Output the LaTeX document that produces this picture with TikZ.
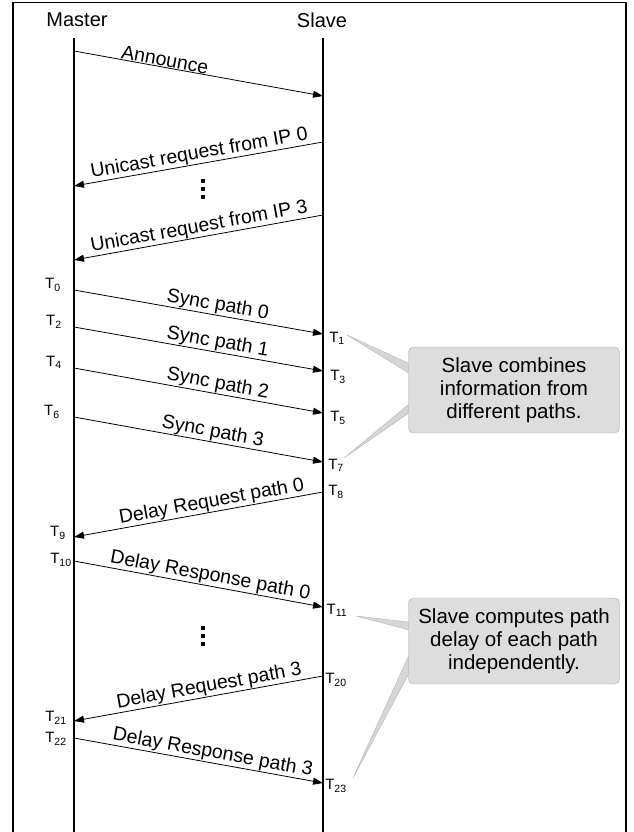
\documentclass[tikz,border=0pt]{standalone}
\usepackage{fontspec}
\setmainfont{Liberation Sans}
\usetikzlibrary{
    arrows.meta,
    positioning,
    calc,
    backgrounds
}
\definecolor{calloutfill}{RGB}{221,221,221}
\definecolor{calloutedge}{RGB}{170,170,170}
\definecolor{wedgefill}{RGB}{214,214,214}
\definecolor{wedgeedge}{RGB}{188,188,188}
\tikzset{
    lifeline/.style={line width=2pt},
    msg/.style={line width=0.8pt, -{Triangle[length=10pt,width=7pt]}},
    msglabel/.style={sloped, above, inner sep=0.5pt, font=\fontsize{19.5}{21}\selectfont},
    tstamp/.style={inner sep=0pt, font=\fontsize{15}{17}\selectfont},
    header/.style={inner sep=0pt, font=\fontsize{20}{22}\selectfont},
    callout/.style={draw=calloutedge, fill=calloutfill, rounded corners=5pt,
        minimum width=211pt, minimum height=86pt, align=center,
        font=\fontsize{20.5}{23}\selectfont},
    wedge/.style={draw=wedgeedge, fill=wedgefill, line width=0.5pt},
    vdot/.style={fill=black, minimum width=3.5pt, minimum height=4.5pt, inner sep=0pt},
}

\begin{document}
\begin{tikzpicture}[x=1pt, y=-1pt]
    \useasboundingbox (0,0) rectangle (634,832);

    %% Frame
    \draw[line width=2pt] (13,834) -- (13,3);
    \draw[line width=1pt] (12,3) -- (626,3);
    \draw[line width=2.5pt] (626,2) -- (626,834);

    %% Lifelines
    \node[header] (master) at (77,20) {Master};
    \node[header] (slave) at (322,20) {Slave};
    \coordinate (mtop) at (74,38);
    \coordinate (mbot) at (74,834);
    \coordinate (stop) at (323,38);
    \coordinate (sbot) at (323,834);
    \draw[lifeline] (mtop) -- (mbot);
    \draw[lifeline] (stop) -- (sbot);

    %% Announce
    \coordinate (ann m) at (74,51);
    \coordinate (ann s) at (323,96);
    \draw[msg] (ann m) -- node[msglabel, pos=0.36] {Announce} (ann s);

    %% Unicast requests
    \coordinate (uni0 s) at (323,142);
    \coordinate (uni0 m) at (74,186);
    \draw[msg] (uni0 s) -- node[msglabel, pos=0.49] {Unicast request from IP 0} (uni0 m);
    \foreach \y in {181,189,197}
        \node[vdot] at (203,\y) {};
    \coordinate (uni3 s) at (323,215);
    \coordinate (uni3 m) at (74,260);
    \draw[msg] (uni3 s) -- node[msglabel, pos=0.49] {Unicast request from IP 3} (uni3 m);

    %% Sync
    \foreach \i/\ya/\yb/\p in {0/290/334/0.57, 1/327/371/0.57, 2/368/413/0.57, 3/417/462/0.55} {
        \coordinate (sync\i m) at (74,\ya);
        \coordinate (sync\i s) at (323,\yb);
        \draw[msg] (sync\i m) -- node[msglabel, pos=\p] {Sync path \i} (sync\i s);
    }

    %% Delay request / response, path 0
    \coordinate (req0 s) at (323,492);
    \coordinate (req0 m) at (74,537);
    \draw[msg] (req0 s) -- node[msglabel, pos=0.44] {Delay Request path 0} (req0 m);
    \coordinate (resp0 m) at (74,561);
    \coordinate (resp0 s) at (323,607);
    \draw[msg] (resp0 m) -- node[msglabel, pos=0.54] {Delay Response path 0} (resp0 s);
    \foreach \y in {628,636,644}
        \node[vdot] at (203,\y) {};

    %% Delay request / response, path 3
    \coordinate (req3 s) at (323,676);
    \coordinate (req3 m) at (74,721);
    \draw[msg] (req3 s) -- node[msglabel, pos=0.45] {Delay Request path 3} (req3 m);
    \coordinate (resp3 m) at (74,738);
    \coordinate (resp3 s) at (323,783);
    \draw[msg] (resp3 m) -- node[msglabel, pos=0.55] {Delay Response path 3} (resp3 s);

    %% Timestamps
    \node[tstamp] (t0) at (53,285) {T\textsubscript{0}};
    \node[tstamp] (t2) at (54,322) {T\textsubscript{2}};
    \node[tstamp] (t4) at (54,362) {T\textsubscript{4}};
    \node[tstamp] (t6) at (52,412) {T\textsubscript{6}};
    \node[tstamp] (t9) at (58,533) {T\textsubscript{9}};
    \node[tstamp] (t10) at (61,560) {T\textsubscript{10}};
    \node[tstamp] (t21) at (56,718) {T\textsubscript{21}};
    \node[tstamp] (t22) at (56,739) {T\textsubscript{22}};
    \node[tstamp] (t1) at (337,338) {T\textsubscript{1}};
    \node[tstamp] (t3) at (338,377) {T\textsubscript{3}};
    \node[tstamp] (t5) at (338,418) {T\textsubscript{5}};
    \node[tstamp] (t7) at (336,465) {T\textsubscript{7}};
    \node[tstamp] (t8) at (336,492) {T\textsubscript{8}};
    \node[tstamp] (t11) at (337,610) {T\textsubscript{11}};
    \node[tstamp] (t20) at (336,680) {T\textsubscript{20}};
    \node[tstamp] (t23) at (336,786) {T\textsubscript{23}};

    %% Callouts
    \node[callout] (combine) at (514,390) {Slave combines\\information from\\different paths.};
    \node[callout] (compute) at (514,641) {Slave computes path\\delay of each path\\independently.};
    \coordinate (tip1) at (347,335);
    \coordinate (tip7) at (344,458);
    \coordinate (tip11) at (356,616);
    \coordinate (tip23) at (353,778);
    \begin{scope}[on background layer]
        \draw[wedge] (tip1) -- ($(combine.north west)!0.19!(combine.south west)$)
            -- ($(combine.north west)!0.30!(combine.south west)$) -- cycle;
        \draw[wedge] (tip7) -- ($(combine.north west)!0.67!(combine.south west)$)
            -- ($(combine.north west)!0.77!(combine.south west)$) -- cycle;
        \draw[wedge] (tip11) -- ($(compute.north west)!0.28!(compute.south west)$)
            -- ($(compute.north west)!0.37!(compute.south west)$) -- cycle;
        \draw[wedge] (tip23) -- ($(compute.north west)!0.68!(compute.south west)$)
            -- ($(compute.north west)!0.89!(compute.south west)$) -- cycle;
    \end{scope}
\end{tikzpicture}
\end{document}
